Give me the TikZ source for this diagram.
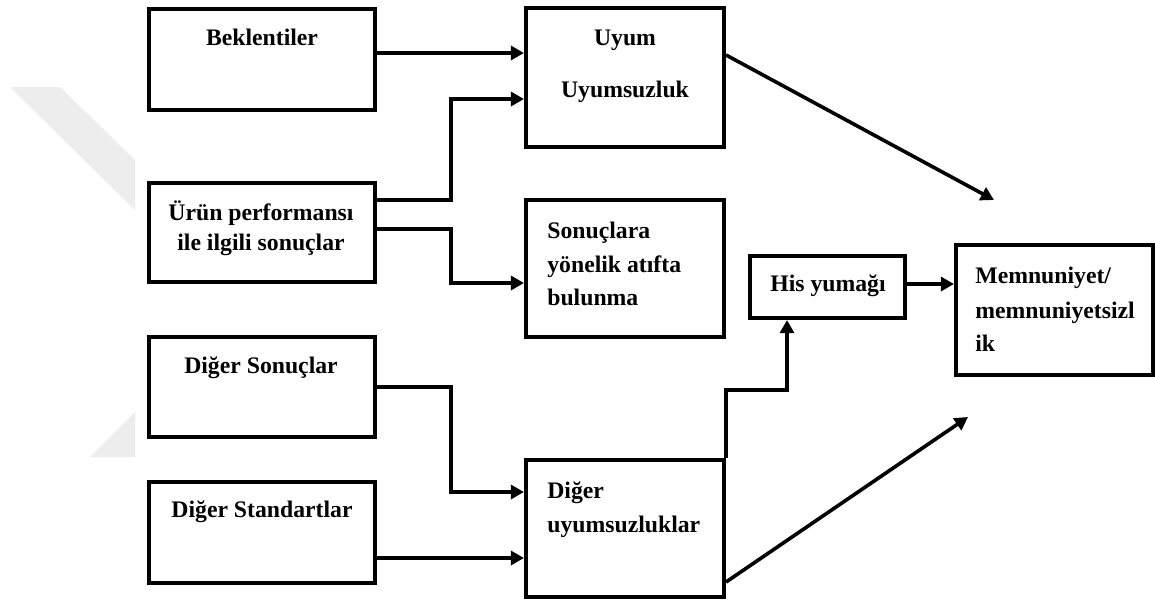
\documentclass[tikz,border=0pt]{standalone}
\usepackage{fontspec}
\setmainfont{Liberation Serif}
\usetikzlibrary{arrows.meta,fit}

\definecolor{wm}{RGB}{237,237,237}

\tikzset{
  box/.style={draw=black, line width=2.3pt, inner sep=0pt, fill=white},
  lbl/.style={font=\fontsize{13.5}{15}\selectfont\bfseries, inner sep=0pt, anchor=base},
  lblw/.style={lbl, anchor=base west},
  conn/.style={line width=2.05pt, draw=black},
  arr/.style={conn, -{Triangle[length=7.5pt,width=8pt]}},
}

\begin{document}
\begin{tikzpicture}[x=0.02cm,y=-0.02cm]
  % canvas
  \fill[white] (0,0) rectangle (1155,603);
  \useasboundingbox (0,0) rectangle (1155,603);

  % faint background mark at the left edge
  \fill[wm] (10,87) -- (60,87) -- (135,160) -- (135,210) -- cycle;
  \fill[wm] (135,412) -- (135,457) -- (90,457) -- cycle;

  % left column
  \node[box, fit={(149,9) (375,110)}] (bek) {};
  \node[lbl] (bekT) at (262,45) {Beklentiler};

  \node[box, fit={(149,183) (375,282)}] (urun) {};
  \node[lbl] (urunT1) at (261,220) {Ürün performansı};
  \node[lbl] (urunT2) at (261,250) {ile ilgili sonuçlar};

  \node[box, fit={(149,337) (375,437)}] (digs) {};
  \node[lbl] (digsT) at (261,373) {Diğer Sonuçlar};

  \node[box, fit={(149,482) (375,583)}] (digst) {};
  \node[lbl] (digstT) at (262,517) {Diğer Standartlar};

  % middle column
  \node[box, fit={(526,8) (724,147)}] (uyum) {};
  \node[lbl] (uyumT1) at (625,45) {Uyum};
  \node[lbl] (uyumT2) at (625,97) {Uyumsuzluk};

  \node[box, fit={(526,200) (724,337)}] (son) {};
  \node[lblw] (sonT1) at (547,238) {Sonuçlara};
  \node[lblw] (sonT2) at (547,272) {yönelik atıfta};
  \node[lblw] (sonT3) at (547,305) {bulunma};

  \node[box, fit={(526,460) (724,597)}] (diguy) {};
  \node[lblw] (diguyT1) at (547,498) {Diğer};
  \node[lblw] (diguyT2) at (547,532) {uyumsuzluklar};

  % right part
  \node[box, fit={(750,256) (905,318)}] (his) {};
  \node[lbl] (hisT) at (828,291) {His yumağı};

  \node[box, fit={(956,245) (1153,375)}] (mem) {};
  \node[lblw] (memT1) at (975,283) {Memnuniyet/};
  \node[lblw] (memT2) at (975,318) {memnuniyetsizl};
  \node[lblw] (memT3) at (975,351) {ik};

  % free ends of the two slanted arrows
  \coordinate (upTip) at (994,200);
  \coordinate (lowTip) at (968,417);

  % connectors
  \draw[arr] (bek.east |- 0,53) -- (uyum.west |- 0,53);
  \draw[arr] (urun.east |- 0,200) -| (451,99) -- (uyum.west |- 0,99);
  \draw[arr] (urun.east |- 0,229) -| (451,283) -- (son.west |- 0,283);
  \draw[arr] (digs.east |- 0,387) -| (451,492) -- (diguy.west |- 0,492);
  \draw[arr] (digst.east |- 0,558) -- (diguy.west |- 0,558);

  \draw[arr] (uyum.east |- 0,55) -- (upTip);
  \draw[arr] (diguy.east |- 0,582) -- (lowTip);

  \draw[arr] (diguy.north east) -- (diguy.north east |- 0,390) -| (his.south -| 787,0);
  \draw[arr] (his.east |- 0,284) -- (mem.west |- 0,284);
\end{tikzpicture}
\end{document}
